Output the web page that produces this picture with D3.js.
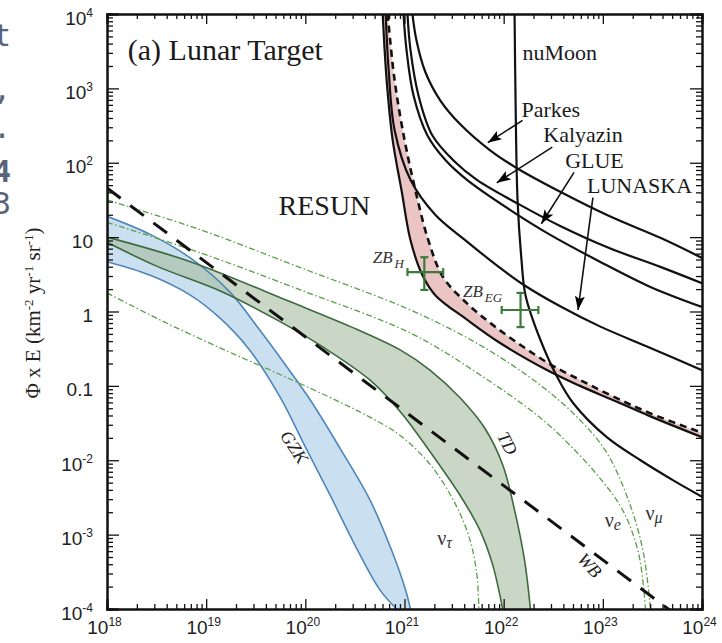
<!DOCTYPE html>
<html>
<head>
<meta charset="utf-8">
<script src="https://cdn.jsdelivr.net/npm/d3@7"></script>
<style>
  html, body { margin: 0; padding: 0; background: #fff; }
  svg { display: block; }
  .serif { font-family: "Liberation Serif", "Times New Roman", serif; }
</style>
</head>
<body>
<svg id="chart" width="722" height="643"></svg>
<script>
// Curves are stored as [log10(E / eV), log10(Φ·E / km^-2 yr^-1 sr^-1)] pairs.
const parkesLog   = [[21.08,4.0],[21.12,3.65],[21.21,3.22],[21.36,2.84],[21.56,2.52],[21.86,2.17],[22.13,1.93],[22.57,1.61],[23.07,1.28],[23.58,0.99],[24.0,0.72]];
const kalyazinLog = [[21.03,4.0],[21.06,3.52],[21.14,2.91],[21.28,2.37],[21.51,2.01],[21.73,1.77],[22.17,1.43],[22.57,1.15],[23.07,0.85],[23.58,0.60],[24.0,0.38]];
const glueLog     = [[20.99,4.0],[21.02,3.52],[21.09,2.91],[21.23,2.37],[21.41,2.04],[21.63,1.77],[22.06,1.37],[22.47,1.03],[22.97,0.67],[23.48,0.33],[24.0,0.06]];
const lunaskaLog  = [[20.81,4.0],[20.84,3.25],[20.90,2.44],[21.06,1.77],[21.31,1.30],[21.63,0.94],[21.96,0.59],[22.20,0.36],[22.57,0.07],[22.97,-0.20],[23.48,-0.49],[24.0,-0.79]];
const numoonLog   = [[22.11,4.0],[22.12,2.84],[22.14,1.50],[22.18,0.69],[22.22,0.22],[22.37,-0.38],[22.54,-0.88],[22.70,-1.23],[23.04,-1.69],[23.38,-2.00],[23.71,-2.27],[24.0,-2.49]];

// RESUN band: dashed upper bound and solid lower bound
const resunUpperLog = [[20.83,4.0],[20.90,3.11],[21.00,2.31],[21.11,1.63],[21.24,0.96],[21.39,0.46],[21.63,0.11],[21.89,-0.18],[22.17,-0.45],[22.47,-0.71],[22.77,-0.92],[23.10,-1.14],[23.48,-1.37],[24.0,-1.63]];
const resunLowerLog = [[20.78,4.0],[20.82,3.11],[20.88,2.31],[20.97,1.63],[21.06,0.96],[21.18,0.49],[21.31,0.22],[21.63,-0.11],[21.96,-0.42],[22.47,-0.81],[22.77,-1.00],[23.10,-1.19],[23.48,-1.41],[24.0,-1.69]];

// Model predictions
const gzkUpperLog = [[18,1.28],[18.43,1.04],[18.84,0.72],[19.24,0.26],[19.54,-0.25],[19.80,-0.72],[20.05,-1.19],[20.35,-1.84],[20.65,-2.53],[20.87,-3.21],[21.01,-3.74],[21.06,-4.0]];
const gzkLowerLog = [[18,0.67],[18.43,0.49],[18.84,0.22],[19.14,-0.09],[19.44,-0.52],[19.75,-1.16],[20.00,-1.82],[20.25,-2.47],[20.50,-3.14],[20.75,-3.74],[20.92,-4.0]];
const tdUpperLog  = [[18,1.00],[18.84,0.67],[19.85,0.13],[20.45,-0.20],[20.96,-0.52],[21.26,-0.79],[21.56,-1.16],[21.81,-1.57],[21.99,-2.06],[22.11,-2.67],[22.21,-3.34],[22.27,-4.0]];
const tdLowerLog  = [[18,0.93],[18.50,0.61],[19.17,0.26],[19.75,-0.14],[20.18,-0.48],[20.65,-0.92],[20.96,-1.35],[21.26,-1.89],[21.56,-2.47],[21.76,-2.94],[21.89,-3.41],[21.99,-4.0]];
const wbLog       = [[18,1.66],[24,-4.34]];
const nuMuLog  = [[18,1.50],[18.94,1.10],[19.95,0.59],[21.06,0.02],[21.76,-0.45],[22.37,-0.99],[22.77,-1.46],[23.04,-1.90],[23.27,-2.58],[23.41,-3.25],[23.48,-4.0]];
const nuELog   = [[18,1.20],[18.94,0.79],[19.95,0.29],[21.06,-0.29],[21.76,-0.85],[22.37,-1.43],[22.67,-1.80],[22.97,-2.24],[23.20,-2.67],[23.36,-3.25],[23.43,-4.0]];
const nuTauLog = [[18,0.25],[18.53,-0.11],[19.14,-0.49],[19.75,-0.85],[20.35,-1.22],[20.65,-1.42],[20.96,-1.67],[21.26,-2.06],[21.51,-2.58],[21.66,-3.07],[21.73,-3.54],[21.75,-4.0]];

// Z-burst points: [logE, logF, logE low, logE high, logF low, logF high]
const zbNames  = [["ZB","H"],["ZB","EG"]];
const zbPoints = [[21.20,0.53,21.03,21.39,0.29,0.73],[22.17,0.02,21.98,22.35,-0.21,0.25]];

// Axis ticks and labels
const xTickExp = [18,19,20,21,22,23,24];
const xTickLabels = [["10","18"],["10","19"],["10","20"],["10","21"],["10","22"],["10","23"],["10","24"]];
const yTickExp = [4,3,2,1,0,-1,-2,-3,-4];
const yTickLabels = [["10","4"],["10","3"],["10","2"],["10",""],["1",""],["0.1",""],["10","-2"],["10","-3"],["10","-4"]];

// ---------------------------------------------------------------
const svg = d3.select("#chart");
const L = 107, R = 702, T = 14, B = 609;
const x = d3.scaleLog().domain([1e18, 1e24]).range([L, R]);
const y = d3.scaleLog().domain([1e-4, 1e4]).range([B, T]);
const px = d => x(Math.pow(10, d[0]));
const py = d => y(Math.pow(10, d[1]));
const line = d3.line().x(px).y(py).curve(d3.curveCatmullRom.alpha(0.5));
const band = (lo, hi) => line(lo) + line(hi.slice().reverse()).replace(/^M/, "L") + "Z";

svg.append("rect").attr("width", 722).attr("height", 643).attr("fill", "#fff");

// Fragments of neighbouring text at the left edge
const frag = svg.append("g").attr("fill", "#5a6478")
  .style("font-family", "'DejaVu Sans Mono', monospace").style("font-size", "30px");
[["t", 46, "normal"], [",", 100, "normal"], [".", 138, "normal"], ["4", 182, "bold"], ["3", 214, "normal"]]
  .forEach(([t, yy, w]) => frag.append("text").attr("x", 11).attr("y", yy)
    .attr("text-anchor", "end").style("font-weight", w).text(t));

const defs = svg.append("defs");
defs.append("clipPath").attr("id", "plot").append("rect")
  .attr("x", L).attr("y", T).attr("width", R - L).attr("height", B - T);
defs.append("marker").attr("id", "arrow").attr("viewBox", "0 0 14 10")
  .attr("refX", 14).attr("refY", 5).attr("markerWidth", 14).attr("markerHeight", 10)
  .attr("markerUnits", "userSpaceOnUse").attr("orient", "auto")
  .append("path").attr("d", "M0,0 L14,5 L0,10 L3,5 Z").attr("fill", "#000");

const plot = svg.append("g").attr("clip-path", "url(#plot)");

// Shaded bands
plot.append("path").attr("d", band(resunLowerLog, resunUpperLog))
  .attr("fill", "#ebc4c4").attr("stroke", "none");
plot.append("path").attr("d", band(gzkLowerLog, gzkUpperLog))
  .attr("fill", "#a6cbe8").attr("fill-opacity", 0.6).attr("stroke", "none");
plot.append("path").attr("d", band(tdLowerLog, tdUpperLog))
  .attr("fill", "#a3b89c").attr("fill-opacity", 0.58).attr("stroke", "none");

// Band edges
[gzkUpperLog, gzkLowerLog].forEach(c => plot.append("path").attr("d", line(c))
  .attr("fill", "none").attr("stroke", "#4f86b8").attr("stroke-width", 1.6));
[tdUpperLog, tdLowerLog].forEach(c => plot.append("path").attr("d", line(c))
  .attr("fill", "none").attr("stroke", "#3d6a3d").attr("stroke-width", 1.6));

// Neutrino flavour curves (dash-dot)
[nuMuLog, nuELog, nuTauLog].forEach(c => plot.append("path").attr("d", line(c))
  .attr("fill", "none").attr("stroke", "#58a048").attr("stroke-width", 1.3)
  .attr("stroke-dasharray", "6,2.5,1.5,2.5"));

// Waxman-Bahcall bound
plot.append("path").attr("d", line(wbLog)).attr("fill", "none")
  .attr("stroke", "#111").attr("stroke-width", 3).attr("stroke-dasharray", "17,12");

// Experimental limits
[parkesLog, kalyazinLog, glueLog, lunaskaLog, numoonLog, resunLowerLog].forEach(c =>
  plot.append("path").attr("d", line(c)).attr("fill", "none")
    .attr("stroke", "#111").attr("stroke-width", 2.2));
plot.append("path").attr("d", line(resunUpperLog)).attr("fill", "none")
  .attr("stroke", "#111").attr("stroke-width", 2.6).attr("stroke-dasharray", "7,5");

// Z-burst error crosses
const zbG = svg.append("g").attr("stroke", "#3b7a3b").attr("stroke-width", 2.2);
zbPoints.forEach(p => {
  const cx = px(p), cy = py(p);
  const xl = x(10 ** p[2]), xh = x(10 ** p[3]), yl = y(10 ** p[4]), yh = y(10 ** p[5]);
  zbG.append("line").attr("x1", xl).attr("x2", xh).attr("y1", cy).attr("y2", cy);
  zbG.append("line").attr("x1", cx).attr("x2", cx).attr("y1", yl).attr("y2", yh);
  zbG.append("line").attr("x1", xl).attr("x2", xl).attr("y1", cy - 4).attr("y2", cy + 4);
  zbG.append("line").attr("x1", xh).attr("x2", xh).attr("y1", cy - 4).attr("y2", cy + 4);
  zbG.append("line").attr("x1", cx - 4).attr("x2", cx + 4).attr("y1", yl).attr("y2", yl);
  zbG.append("line").attr("x1", cx - 4).attr("x2", cx + 4).attr("y1", yh).attr("y2", yh);
});

// Axes: minor and major ticks on all four sides, pointing inward
const xMinor = [], yMinor = [];
for (let e = 18; e < 24; e++) for (let m = 2; m <= 9; m++) xMinor.push(m * 10 ** e);
for (let e = -4; e < 4; e++) for (let m = 2; m <= 9; m++) yMinor.push(m * 10 ** e);
const xMajor = xTickExp.map(e => 10 ** e), yMajor = yTickExp.map(e => 10 ** e);

const axes = svg.append("g").attr("class", "serif");
function addAxis(gen, tr, vals, size) {
  const g = axes.append("g").attr("transform", tr)
    .call(gen.tickValues(vals).tickSize(-size).tickFormat(() => ""));
  g.select(".domain").attr("stroke", "#111").attr("stroke-width", 2);
  g.selectAll(".tick line").attr("stroke", "#111").attr("stroke-width", 1.3);
  return g;
}
addAxis(d3.axisBottom(x), `translate(0,${B})`, xMinor, 5);
addAxis(d3.axisTop(x), `translate(0,${T})`, xMinor, 5);
addAxis(d3.axisLeft(y), `translate(${L},0)`, yMinor, 6);
addAxis(d3.axisRight(y), `translate(${R},0)`, yMinor, 6);
const gx = addAxis(d3.axisBottom(x), `translate(0,${B})`, xMajor, 10);
addAxis(d3.axisTop(x), `translate(0,${T})`, xMajor, 10);
const gy = addAxis(d3.axisLeft(y), `translate(${L},0)`, yMajor, 12);
addAxis(d3.axisRight(y), `translate(${R},0)`, yMajor, 12);

gx.selectAll(".tick text").each(function (d, i) {
  const t = d3.select(this).attr("y", 25).attr("dy", 0).attr("x", -3)
    .attr("fill", "#222").attr("text-anchor", "middle").style("font-size", "19px");
  t.append("tspan").text(xTickLabels[i][0]);
  t.append("tspan").attr("dy", -8).style("font-size", "12px").text(xTickLabels[i][1]);
});
gy.selectAll(".tick text").each(function (d, i) {
  const lab = yTickLabels[i];
  const t = d3.select(this).attr("x", -14).attr("y", 10).attr("dy", 0)
    .attr("fill", "#222").attr("text-anchor", "end").style("font-size", "19px");
  t.append("tspan").text(lab[0]);
  if (lab[1]) t.append("tspan").attr("dy", -8).style("font-size", "12px").text(lab[1]);
});

// Y-axis title
const yt = svg.append("text").attr("class", "serif").attr("fill", "#222")
  .attr("transform", "translate(40,313) rotate(-90)").attr("text-anchor", "middle")
  .style("font-size", "21px");
yt.append("tspan").text("Φ x E (km");
yt.append("tspan").attr("dy", -7).style("font-size", "13px").text("-2");
yt.append("tspan").attr("dy", 7).text(" yr");
yt.append("tspan").attr("dy", -7).style("font-size", "13px").text("-1");
yt.append("tspan").attr("dy", 7).text(" sr");
yt.append("tspan").attr("dy", -7).style("font-size", "13px").text("-1");
yt.append("tspan").attr("dy", 7).text(")");

// Annotations (positions in log10 data coordinates)
const ann = svg.append("g").attr("class", "serif").attr("fill", "#1a1a1a");
const P = (e, f) => [x(10 ** e), y(10 ** f)];
function label(txt, e, f, size) {
  const [a, b] = P(e, f);
  return ann.append("text").attr("x", a).attr("y", b).style("font-size", size + "px").text(txt);
}
label("(a) Lunar Target", 18.21, 3.38, 30);
label("RESUN", 19.73, 1.30, 28);
label("nuMoon", 22.19, 3.38, 22);
label("Parkes", 22.18, 2.62, 22);
label("Kalyazin", 22.40, 2.28, 22);
label("GLUE", 22.62, 1.93, 22);
label("LUNASKA", 22.84, 1.59, 22);

// Arrows from instrument names to their curves
const arrows = [
  [[22.19, 2.57], [21.84, 2.27]],
  [[22.49, 2.21], [21.93, 1.73]],
  [[22.71, 1.87], [22.38, 1.18]],
  [[22.90, 1.53], [22.75, 0.02]]
];
arrows.forEach(([s, e]) => {
  const [x1, y1] = P(...s), [x2, y2] = P(...e);
  svg.append("line").attr("x1", x1).attr("y1", y1).attr("x2", x2).attr("y2", y2)
    .attr("stroke", "#111").attr("stroke-width", 1.6).attr("marker-end", "url(#arrow)");
});

// Z-burst labels
[[20.68, 0.65], [21.59, 0.20]].forEach((pos, i) => {
  const [a, b] = P(...pos);
  const t = ann.append("text").attr("x", a).attr("y", b).style("font-style", "italic")
    .style("font-size", "17px").attr("fill", "#333");
  t.append("tspan").text(zbNames[i][0]);
  t.append("tspan").attr("dx", 2).attr("dy", 5).style("font-size", "13px").text(zbNames[i][1]);
});

// Rotated model labels
function rotLabel(txt, e, f, ang, size) {
  const [a, b] = P(e, f);
  ann.append("text").attr("transform", `translate(${a},${b}) rotate(${ang})`)
    .attr("text-anchor", "middle").attr("dy", "0.35em").style("font-style", "italic")
    .style("font-size", size + "px").attr("fill", "#222").text(txt);
}
rotLabel("GZK", 19.89, -1.82, 57, 18);
rotLabel("TD", 22.04, -1.77, 62, 18);
rotLabel("WB", 22.87, -3.41, 48, 18);

// Neutrino flavour labels
function nuLabel(sub, e, f) {
  const [a, b] = P(e, f);
  const t = ann.append("text").attr("x", a).attr("y", b).style("font-size", "20px").attr("fill", "#333");
  t.append("tspan").text("ν");
  t.append("tspan").attr("dy", 3).style("font-size", "16px").style("font-style", "italic").text(sub);
}
nuLabel("τ", 21.33, -3.14);
nuLabel("e", 23.02, -2.90);
nuLabel("μ", 23.43, -2.80);
</script>
</body>
</html>
